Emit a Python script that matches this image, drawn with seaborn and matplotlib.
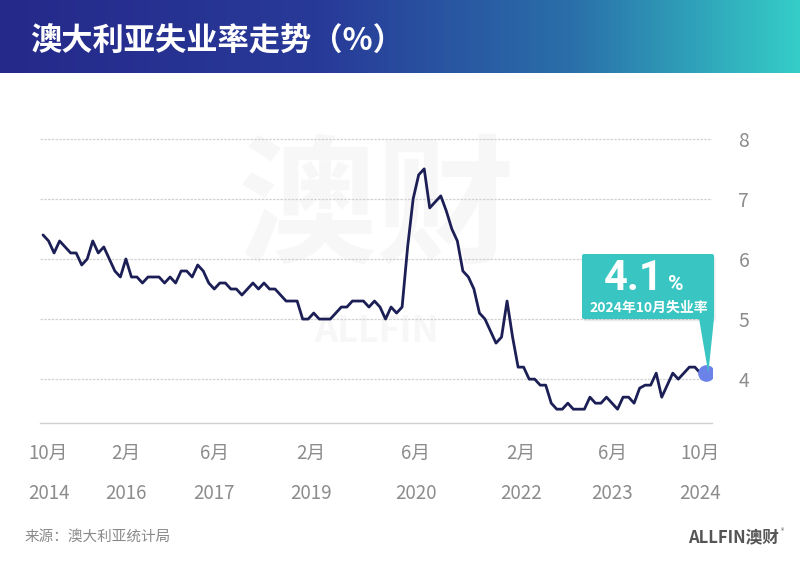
import numpy as np
import pandas as pd
import matplotlib
matplotlib.use('Agg')
import matplotlib.pyplot as plt
from matplotlib.colors import LinearSegmentedColormap
from matplotlib.patches import FancyBboxPatch, Polygon
import seaborn as sns

# ---------------- data ----------------
start_month = '2014-10'
rate = [6.4, 6.3, 6.1, 6.3, 6.2, 6.1, 6.1, 5.9, 6.0, 6.3,
        6.1, 6.2, 6.0, 5.8, 5.7, 6.0, 5.7, 5.7, 5.6, 5.7,
        5.7, 5.7, 5.6, 5.7, 5.6, 5.8, 5.8, 5.7, 5.9, 5.8,
        5.6, 5.5, 5.6, 5.6, 5.5, 5.5, 5.4, 5.5, 5.6, 5.5,
        5.6, 5.5, 5.5, 5.4, 5.3, 5.3, 5.3, 5.0, 5.0, 5.1,
        5.0, 5.0, 5.0, 5.1, 5.2, 5.2, 5.3, 5.3, 5.3, 5.2,
        5.3, 5.2, 5.0, 5.2, 5.1, 5.2, 6.2, 7.0, 7.4, 7.5,
        6.85, 6.95, 7.05, 6.8, 6.5, 6.3, 5.8, 5.7, 5.5, 5.1,
        5.0, 4.8, 4.6, 4.7, 5.3, 4.7, 4.2, 4.2, 4.0, 4.0,
        3.9, 3.9, 3.6, 3.5, 3.5, 3.6, 3.5, 3.5, 3.5, 3.7,
        3.6, 3.6, 3.7, 3.6, 3.5, 3.7, 3.7, 3.6, 3.85, 3.9,
        3.9, 4.1, 3.7, 3.9, 4.1, 4.0, 4.1, 4.2, 4.2, 4.1,
        4.1]
tick_months = ['10月', '2月', '6月', '2月', '6月', '2月', '6月', '10月']
tick_years = ['2014', '2016', '2017', '2019', '2020', '2022', '2023', '2024']
y_ticks = [4, 5, 6, 7, 8]
title = '澳大利亚失业率走势（%）'
callout_value = '4.1'
callout_label = '2024年10月失业率'
source = '来源：澳大利亚统计局'

dates = pd.date_range(start_month, periods=len(rate), freq='MS')
df = pd.DataFrame({'idx': np.arange(len(rate)), 'date': dates, 'rate': rate})

# ---------------- style ----------------
sns.set_theme(style='white')
plt.rcParams['font.family'] = ['Noto Sans CJK SC', 'DejaVu Sans']

W, H = 800, 567
fig = plt.figure(figsize=(W / 100, H / 100), dpi=100)
fig.patch.set_facecolor('white')

def fx(px):
    return px / W

def fy(py):
    return 1 - py / H

# header gradient bar
hdr = fig.add_axes([0, fy(73), 1, 73 / H])
cmap = LinearSegmentedColormap.from_list(
    'hdr', [(0, '#25298a'), (0.4, '#283a98'), (0.72, '#2a70aa'), (1, '#35cdc7')])
grad = np.linspace(0, 1, 400).reshape(1, -1)
hdr.imshow(grad, aspect='auto', cmap=cmap, extent=[0, 1, 0, 1])
hdr.set_axis_off()
fig.text(fx(30), fy(42), title, color='white', fontsize=22.5, fontweight='heavy',
         ha='left', va='center')

# main axes
ax = fig.add_axes([fx(40), fy(423), fx(712) - fx(40), (423 - 128) / H])
ax.set_facecolor('none')

# watermark
ax.text(0.5, 0.72, '澳财', transform=ax.transAxes, fontsize=100, fontweight='bold',
        color='#f7f7f7', ha='center', va='center', zorder=0)
ax.text(0.5, 0.31, 'ALLFIN', transform=ax.transAxes, fontsize=26, fontweight='bold',
        color='#f7f7f7', ha='center', va='center', zorder=0)

for v in y_ticks:
    ax.axhline(v, color='#d2d2d2', lw=0.9, ls=(0, (2, 1)), zorder=1)

sns.lineplot(data=df, x='idx', y='rate', ax=ax, color='#1c1f55', lw=2.0, zorder=3)
last_x = df['idx'].iloc[-1]
last_y = df['rate'].iloc[-1]
ax.plot([last_x], [last_y], 'o', ms=12, color='#6b82e8', zorder=5, mec='none')

ax.set_xlim(-0.55, 121.1)
ax.set_ylim(3.27, 8.18)
ax.set_xlabel('')
ax.set_ylabel('')
for s in ['top', 'left', 'right']:
    ax.spines[s].set_visible(False)
ax.spines['bottom'].set_color('#cfcfcf')
ax.spines['bottom'].set_linewidth(1.0)

tick_pos = [1, 15, 31, 48.5, 67.5, 86.5, 103, 119]
ax.set_xticks(tick_pos, labels=[f'{m}\n{y}' for m, y in zip(tick_months, tick_years)])
ax.tick_params(axis='x', length=0, pad=14, labelsize=13.5, labelcolor='#8c8c8c')
for t in ax.get_xticklabels():
    t.set_linespacing(2.2)

ax.yaxis.tick_right()
ax.set_yticks(y_ticks, labels=[str(v) for v in y_ticks])
ax.tick_params(axis='y', length=0, pad=19, labelsize=14, labelcolor='#8c8c8c')

# callout anchored at last point
fig.canvas.draw()
px_pt = ax.transData.transform((last_x, last_y))
end_fx, end_fy = fig.transFigure.inverted().transform(px_pt)

bx0, bx1, by0, by1 = 582, 714, 254, 319
shadow = FancyBboxPatch((fx(bx0) + 0.002, fy(by1) - 0.004), fx(bx1) - fx(bx0), fy(by0) - fy(by1),
                        boxstyle='round,pad=0,rounding_size=0.003', transform=fig.transFigure,
                        fc='#000000', alpha=0.07, ec='none', zorder=6)
fig.add_artist(shadow)
box = FancyBboxPatch((fx(bx0), fy(by1)), fx(bx1) - fx(bx0), fy(by0) - fy(by1),
                     boxstyle='round,pad=0,rounding_size=0.003', transform=fig.transFigure,
                     fc='#39c5c1', ec='none', zorder=7)
fig.add_artist(box)
tail = Polygon([(fx(699), fy(by1) + 0.001), (fx(bx1), fy(by1) + 0.001), (end_fx + 0.003, end_fy)],
               closed=True, transform=fig.transFigure, fc='#39c5c1', ec='none', zorder=7)
fig.add_artist(tail)
fig.text(fx(664), fy(279), callout_value, color='white', fontsize=30, fontweight='bold',
         family=['Roboto', 'DejaVu Sans'], ha='right', va='center', zorder=8)
fig.text(fx(668), fy(285), '%', color='white', fontsize=15, fontweight='bold',
         family=['Roboto', 'DejaVu Sans'], ha='left', va='center', zorder=8)
fig.text(fx(649), fy(308), callout_label, color='white', fontsize=10, fontweight='bold',
         ha='center', va='center', zorder=8)

# footer
fig.text(fx(25), fy(537), source, color='#8a8a8a', fontsize=10.5, ha='left', va='center')
fig.text(fx(779), fy(537), 'ALLFIN澳财', color='#555555', fontsize=12, fontweight='bold',
         ha='right', va='center')
fig.text(fx(781), fy(531), '®', color='#555555', fontsize=5, ha='left', va='center')

fig.savefig('out.png', dpi=100, facecolor='white')
